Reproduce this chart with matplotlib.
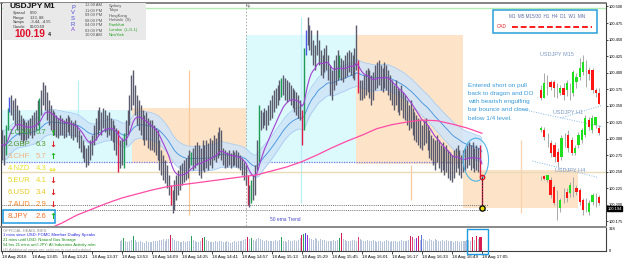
import matplotlib
matplotlib.use("Agg")
import matplotlib.pyplot as plt
import numpy as np
import pandas as pd
from matplotlib.patches import Rectangle, Ellipse

plt.rcParams['font.family'] = ['Liberation Sans', 'DejaVu Sans']

W, H = 625, 264

# M1 bars, 12:49 -> 17:05, prices in pipettes above 100.000 (313 -> 100.313)
bar_high = [
    313, 305, 321, 346, 363, 366, 359, 362, 351, 343, 336, 331, 328, 325, 328, 331,
    336, 340, 343, 359, 362, 374, 386, 381, 371, 359, 351, 343, 340, 336, 331, 336,
    331, 328, 331, 336, 333, 328, 325, 328, 321, 313, 305, 298, 290, 286, 290, 298,
    305, 321, 331, 343, 348, 340, 346, 343, 336, 340, 331, 328, 321, 316, 313, 298,
    301, 308, 328, 343, 366, 396, 404, 381, 366, 359, 351, 343, 336, 340, 331, 328,
    328, 321, 316, 313, 298, 283, 275, 268, 260, 245, 230, 222, 237, 245, 252, 260,
    263, 268, 271, 275, 283, 280, 286, 290, 295, 290, 286, 298, 290, 298, 293, 301,
    298, 305, 301, 310, 318, 313, 286, 283, 280, 283, 278, 283, 280, 283, 280, 275,
    271, 265, 260, 245, 230, 237, 245, 260, 298, 351, 343, 340, 346, 343, 351, 359,
    366, 374, 377, 381, 389, 392, 396, 392, 389, 386, 381, 377, 374, 371, 366, 359,
    343, 437, 465, 484, 472, 465, 449, 442, 465, 449, 434, 427, 437, 442, 427, 412,
    404, 419, 427, 434, 427, 422, 419, 427, 431, 434, 431, 427, 437, 472, 419, 389,
    389, 396, 404, 407, 404, 396, 401, 412, 416, 419, 412, 407, 416, 412, 404, 396,
    389, 381, 389, 377, 374, 381, 371, 366, 359, 351, 359, 346, 340, 336, 331, 328,
    321, 328, 331, 321, 313, 305, 301, 298, 305, 298, 290, 295, 286, 290, 283, 280,
    275, 283, 286, 290, 283, 275, 283, 286, 290, 295, 290, 295, 286, 290, 286, 290, 245,
]
bar_low = [
    268, 260, 275, 313, 340, 336, 328, 321, 313, 305, 298, 293, 298, 298, 301, 305,
    301, 305, 313, 321, 313, 336, 351, 343, 328, 321, 313, 305, 305, 302, 301, 305,
    305, 301, 303, 310, 305, 301, 298, 302, 295, 286, 280, 271, 265, 257, 260, 268,
    275, 290, 298, 305, 313, 305, 316, 310, 302, 305, 298, 295, 283, 275, 249, 255,
    260, 255, 290, 305, 321, 343, 351, 336, 321, 313, 305, 298, 290, 298, 286, 283,
    283, 280, 275, 268, 252, 245, 237, 233, 225, 215, 199, 187, 192, 207, 215, 222,
    230, 234, 237, 240, 255, 260, 252, 255, 260, 245, 240, 252, 249, 255, 252, 260,
    255, 268, 265, 271, 275, 268, 260, 255, 257, 260, 255, 258, 260, 257, 255, 252,
    245, 237, 230, 199, 196, 202, 207, 215, 252, 265, 313, 316, 321, 313, 321, 328,
    331, 340, 346, 351, 359, 363, 366, 359, 355, 359, 351, 346, 340, 336, 331, 328,
    290, 313, 427, 442, 434, 427, 412, 404, 427, 412, 396, 392, 401, 404, 389, 366,
    359, 374, 381, 389, 392, 389, 386, 392, 395, 401, 396, 392, 389, 404, 369, 359,
    359, 362, 366, 371, 362, 351, 359, 374, 377, 381, 374, 371, 377, 374, 366, 359,
    351, 343, 351, 340, 336, 343, 331, 328, 321, 313, 316, 305, 298, 295, 290, 286,
    283, 290, 293, 283, 271, 268, 260, 252, 265, 255, 249, 252, 245, 249, 240, 237,
    234, 240, 249, 255, 245, 240, 249, 252, 255, 260, 252, 255, 249, 252, 249, 242, 195,
]
green_bars = [2, 3, 20, 65, 101, 133, 137, 149, 161, 180]
red_bars = [62, 90, 131, 160, 190, 255, 256]
blue_bars = [4, 162]

# slow (50 ema) line, one value every 8 bars from bar 24
ema50 = [162, 172, 184, 193, 202, 210, 216, 222, 227, 230, 233, 236, 239, 242, 245,
         251, 257, 265, 275, 286, 296, 305, 315, 321, 325, 328, 327, 322, 316, 308]

# tick volume from bar 63 on (earlier bars sit under the news text)
volume = [
    135, 155, 180, 145, 125, 140, 150, 205, 155, 130, 120, 140, 125, 115, 135, 130, 120,
    125, 140, 145, 135, 150, 155, 165, 145, 160, 165, 215, 175, 155, 140, 135, 130,
    125, 135, 130, 145, 140, 210, 155, 135, 125, 120, 140, 185, 195, 150, 135, 125,
    120, 130, 140, 125, 135, 145, 130, 120, 135, 125, 115, 130, 140, 125, 135, 145,
    140, 155, 165, 190, 165, 180, 155, 145, 160, 175, 165, 150, 140, 155, 145, 135,
    145, 140, 155, 135, 150, 190, 145, 140, 130, 155, 145, 135, 150, 140, 155, 175,
    215, 235, 245, 225, 185, 165, 155, 175, 160, 145, 165, 150, 155, 140, 145, 135,
    145, 155, 140, 150, 185, 250, 165, 155, 145, 135, 140, 150, 155, 145, 200, 165,
    155, 145, 140, 150, 135, 145, 155, 140, 130, 145, 135, 125, 140, 150, 135, 130,
    140, 135, 145, 130, 140, 150, 135, 145, 140, 155, 205, 200, 165, 185, 210, 155,
    225, 165, 155, 145, 160, 150, 140, 165, 155, 145, 135, 150, 140, 155, 145, 135,
    140, 130, 145, 135, 125, 140, 145, 135, 150, 155, 140, 200, 155, 205, 165, 200, 195,
]
vol_colors = {65: '#2e9e5e', 70: '#2e9e5e', 90: '#d81b50', 101: '#2e9e5e', 107: '#d81b50',
              108: '#2e9e5e', 131: '#d81b50', 133: '#2e9e5e', 149: '#2e9e5e',
              160: '#d81b50', 161: '#2e9e5e', 162: '#4848e0', 163: '#9a30d0',
              180: '#2e9e5e', 181: '#d81b50', 190: '#e0407a', 218: '#d81b50',
              219: '#e0407a', 221: '#9a30d0', 222: '#d81b50', 224: '#6070e0',
              251: '#d81b50', 253: '#d81b50', 255: '#d81b50', 256: '#d81b50'}

# mini charts (open, high, low, close) in pipettes
m15 = [(374, 381, 359, 362), (362, 399, 362, 384), (381, 396, 366, 381), (386, 389, 374, 378),
       (386, 389, 363, 377), (377, 384, 362, 377), (369, 381, 366, 377), (377, 384, 359, 366),
       (374, 389, 365, 384), (381, 384, 359, 381), (369, 404, 365, 401), (386, 399, 377, 393),
       (393, 422, 389, 407), (401, 427, 396, 416), (407, 419, 378, 407), (404, 408, 389, 398),
       (404, 407, 369, 374), (374, 377, 363, 369), (369, 377, 352, 352)]
h1 = [(313, 319, 310, 316), (313, 318, 298, 302), (298, 308, 287, 298), (293, 298, 272, 278),
      (290, 295, 265, 272), (280, 286, 257, 265), (272, 305, 268, 301), (298, 308, 287, 298),
      (305, 313, 280, 286), (298, 302, 275, 278), (278, 290, 275, 286), (290, 310, 286, 305),
      (298, 316, 293, 313), (305, 336, 302, 331), (328, 333, 313, 318), (313, 336, 308, 331),
      (321, 333, 316, 333), (316, 321, 305, 308)]
h4 = [(240, 243, 237, 240), (243, 245, 237, 239), (237, 245, 234, 245), (237, 242, 210, 215),
      (227, 230, 199, 202), (207, 222, 177, 207), (195, 210, 189, 207), (215, 225, 202, 215),
      (219, 225, 204, 210), (218, 234, 212, 230), (227, 242, 212, 227), (225, 230, 215, 219),
      (222, 225, 199, 204), (207, 210, 184, 192), (199, 210, 189, 199), (189, 207, 184, 202),
      (204, 218, 199, 215), (207, 218, 196, 207), (212, 215, 199, 202)]

currencies = ['1.CAD', '2.GBP', '3.CHF', '4.NZD', '5.EUR', '6.USD', '7.AUD', '8.JPY']
strength = [6.7, 6.3, 5.7, 4.3, 4.1, 3.4, 2.9, 2.6]
trend = ['up', 'down', 'up', 'flat', 'down', 'down', 'down', 'up']
cur_colors = ['#35a83c', '#4f9a2a', '#f2b482', '#e6e22a', '#e6d82a', '#e8c82a', '#f08a2e', '#f0702a']

x_labels = ['18 Aug 2016', '18 Aug 13:05', '18 Aug 13:21', '18 Aug 13:37', '18 Aug 13:53',
            '18 Aug 14:09', '18 Aug 14:25', '18 Aug 14:41', '18 Aug 14:57', '18 Aug 15:13',
            '18 Aug 15:29', '18 Aug 15:45', '18 Aug 16:01', '18 Aug 16:17', '18 Aug 16:33',
            '18 Aug 16:49', '18 Aug 17:05']

CYAN = '#dcf9fc'
PEACH = '#fde4c8'


def price(p):
    return 100 + np.asarray(p, dtype=float) / 1000


def ftext(fig, x, y, s, **kw):
    kw.setdefault('va', 'center')
    kw.setdefault('ha', 'left')
    fig.text(x / W, 1 - y / H, s, **kw)


def frect(fig, x, y, w, h, **kw):
    fig.add_artist(Rectangle((x / W, 1 - (y + h) / H), w / W, h / H,
                             transform=fig.transFigure, **kw))


def draw_candles(ax, data, x0, step):
    for j, (o, hi, lo, c) in enumerate(data):
        x = x0 + j * step
        ax.vlines(x, price(lo), price(hi), color='#a8a8a8', lw=0.7, zorder=6)
        if c > o:
            col = '#1fe01f'
        elif c < o:
            col = '#ff1414'
        else:
            continue
        ax.add_patch(Rectangle((x - 0.6, price(min(o, c))), 1.2, abs(c - o) / 1000,
                               color=col, zorder=7, lw=0))


def main():
    fig = plt.figure(figsize=(W / 100, H / 100), dpi=100)
    ax = fig.add_axes([1 / W, 1 - 226 / H, 605 / W, 223 / H])
    vax = fig.add_axes([1 / W, 1 - 251 / H, 605 / W, 23 / H])

    n = len(bar_high)
    idx = np.arange(n)
    hi = price(bar_high)
    lo = price(bar_low)

    # session boxes
    zones = [(-0.5, 69.3, 263, 343, CYAN), (69.3, 130.1, 263, 346, PEACH),
             (130.1, 188.8, 263, 457, CYAN), (188.8, 245.9, 262, 457, PEACH),
             (245.9, 307.2, 195, 252, PEACH)]
    for x0, x1, p0, p1, col in zones:
        ax.add_patch(Rectangle((x0, price(p0)), x1 - x0, (p1 - p0) / 1000,
                               color=col, lw=0, zorder=0))
    for xb, p0, p1, col in [(99.7, 184, 404, '#f9c99a'), (218, 207, 260, '#f9c99a'),
                            (276.8, 187, 298, '#f9d3ad'), (40.5, 313, 389, '#b8f0f6'),
                            (159.5, 202, 484, '#b8f0f6')]:
        ax.vlines(xb, price(p0), price(p1), color=col, lw=0.9, zorder=0.5)

    # horizontal levels
    ax.axhline(price(498), color='#b4ecb4', lw=1.0, zorder=1)
    ax.axhline(price(249), color='#eadbb8', lw=1.0, zorder=1)
    ax.hlines(price(265), -0.5, 246, color='#7a7ae6', lw=0.9, ls=(0, (1, 1)), zorder=1)
    ax.hlines([price(199), price(192)], -0.5, 259, color='#707070', lw=0.7,
              ls=(0, (1, 1.2)), zorder=1)
    ax.axvline(130.1, color='#a0a0a0', lw=0.6, ls=(0, (2, 2)), zorder=1)

    # dragon band and moving averages
    s_hi = pd.Series(hi).ewm(span=34, adjust=False).mean()
    s_lo = pd.Series(lo).ewm(span=34, adjust=False).mean()
    mid = (hi + lo) / 2
    s_mid = pd.Series(mid).ewm(span=34, adjust=False).mean()
    fast = pd.Series(mid).ewm(span=13, adjust=False).mean()
    ax.fill_between(idx, s_lo, s_hi, color='#cfe4f8', alpha=0.85, lw=0, zorder=2)
    ax.plot(idx, s_hi, color='#a9cdf2', lw=0.6, zorder=2.1)
    ax.plot(idx, s_lo, color='#a9cdf2', lw=0.6, zorder=2.1)
    ax.plot(idx, s_mid, color='#3d8fe0', lw=0.6, zorder=2.2)

    # bars
    cols = ['#5b5b6e'] * n
    for i in green_bars:
        cols[i] = '#1e9b55'
    for i in red_bars:
        cols[i] = '#dd1c4a'
    for i in blue_bars:
        cols[i] = '#4a5ae8'
    ax.vlines(idx, lo, hi, colors=cols, lw=1.0, zorder=3)

    ax.plot(idx, fast, color='#a23fd2', lw=0.8, zorder=4)
    ema_idx = np.arange(24, n, 8)
    ax.plot(ema_idx, price(ema50), color='#ff4aa6', lw=0.9, zorder=4)

    # trade markers
    ax.add_patch(Ellipse((252.8, price(268)), 13.5, 0.065, fill=False,
                         ec='#4fb3e6', lw=0.8, zorder=5))
    ax.plot([256, 256], [price(242), price(195)], color='#202020', lw=0.6,
            ls=(0, (2, 1.5)), zorder=5)
    ax.plot(256, price(242), 'o', ms=3.2, mfc='none', mec='#e01010', mew=0.9, zorder=6)
    ax.plot(256, price(195), 'o', ms=3.8, mfc='#f0e000', mec='#101010', mew=1.0, zorder=6)

    # mini charts of higher timeframes
    draw_candles(ax, m15, 287.5, 1.72)
    draw_candles(ax, h1, 287.5, 1.82)
    draw_candles(ax, h4, 287.5, 1.72)
    for xs, ps in [((298, 320), (331, 350)), ((276, 320), (345, 318)),
                   ((283, 318), (266, 241))]:
        ax.plot(xs, price(list(ps)), color='#8ab8e8', lw=0.7, ls=(0, (1, 1.5)), zorder=5)

    ax.set_xlim(-0.5, 322.2)
    ax.set_ylim(100.1675, 100.5053)
    ax.yaxis.tick_right()
    ticks = [100.175 + 0.025 * k for k in range(14)]
    ax.set_yticks(ticks)
    ax.set_yticklabels([f'{t:.3f}' for t in ticks], fontsize=2.9)
    ax.tick_params(axis='y', length=1.3, width=0.5, pad=0.6)
    ax.set_xticks([])
    for side in ['left', 'right']:
        ax.spines[side].set_color('#404040')
        ax.spines[side].set_linewidth(0.8)
    ax.spines['top'].set_color('#707070')
    ax.spines['top'].set_linewidth(1.2)
    ax.spines['bottom'].set_visible(False)
    ax.text(1.0025, 100.194, '100.194', transform=ax.get_yaxis_transform(), fontsize=2.9,
            color='white', va='center', ha='left',
            bbox=dict(boxstyle='square,pad=0.15', fc='black', ec='black'))

    # volume panel
    vidx = np.arange(n - len(volume), n)
    vcols = [vol_colors.get(i, '#b6c3d9') for i in vidx]
    vax.bar(vidx, volume, width=0.55, color=vcols, lw=0)
    vax.set_xlim(-0.5, 322.2)
    vax.set_ylim(0, 318)
    vax.yaxis.tick_right()
    vax.set_yticks([0, 318])
    vax.set_yticklabels(['0', '318'], fontsize=2.9)
    vax.tick_params(axis='y', length=0, pad=2)
    vax.set_xticks(np.arange(0, n, 16))
    vax.set_xticklabels(x_labels, fontsize=3.2, ha='left')
    vax.tick_params(axis='x', length=2, width=0.5, pad=1)
    for side in ['left', 'right', 'bottom', 'top']:
        vax.spines[side].set_color('#404040')
        vax.spines[side].set_linewidth(0.8)
    vax.spines['top'].set_visible(False)
    frect(fig, 0, 225.5, 607, 2.5, color='#8c8c8c', lw=0)

    # news text
    frect(fig, 2, 228.5, 115, 22, color='white', lw=0)
    news = [('OFFICIAL HEADLINES', '#909090'),
            ('1 mins since USD: FOMC Member Dudley Speaks', '#2020e0'),
            ('21 mins until USD: Natural Gas Storage', '#138a13'),
            ('54 hrs 21 mins until JPY: All Industries Activity m/m', '#138a13'),
            ('(4) Additional news per settings is not scheduled', '#a0a0a0')]
    for k, (s, c) in enumerate(news):
        ftext(fig, 3, 230.5 + k * 4.8, s, fontsize=3.0, color=c)
    frect(fig, 467, 228.5, 21, 25, fill=False, ec='#1e9be0', lw=1.0)

    # info panel
    frect(fig, 3, 3.5, 143, 36.5, color='#e9e9e9', lw=0)
    ftext(fig, 10, 6.8, 'USDJPY', fontsize=6.0, fontweight='bold', color='#111111')
    ftext(fig, 44, 6.8, 'M1', fontsize=6.0, fontweight='bold', color='#111111')
    for k, (a, b) in enumerate([('Spread', '0.50'), ('Range', '123, 88'),
                                ('Swaps', '-3.44, -4.55'), ('Candle', '00:00:59')]):
        ftext(fig, 13, 13 + k * 4.5, a, fontsize=2.9, color='#333333')
        ftext(fig, 30, 13 + k * 4.5, b, fontsize=2.9, color='#333333')
    ftext(fig, 14, 34, '100.19', fontsize=7.3, fontweight='bold', color='#e0102a')
    ftext(fig, 48, 35, '4', fontsize=3.8, fontweight='bold', color='#222222')
    for k, ch in enumerate('PVSRA'):
        ftext(fig, 73, 7.5 + k * 5.5, ch, fontsize=4.2, color='#4a4ad8' if ch != 'A' else '#7a4ad8',
              ha='center')
    times = ['12:09 AM', '11:09 PM', '09:09 PM', '08:09 PM', '04:09 PM', '03:09 PM', '10:09 AM']
    cities = ['Sydney', 'Tokyo', 'HongKong', 'Helsinki  (S)', 'Frankfurt', 'London  (L,G-1)', 'NewYork']
    for k in range(7):
        ftext(fig, 85, 5.5 + k * 5.0, times[k], fontsize=2.9, color='#555555')
        ftext(fig, 109, 5.5 + k * 5.0, cities[k], fontsize=2.9,
              color='#555555' if k < 4 else '#22a022')
    ftext(fig, 246, 5.5, 'Ny', fontsize=3.1, color='#606060')

    # currency strength list
    arrows = {'up': ('\u2191', '#19b419'), 'down': ('\u2193', '#e02020'), 'flat': ('\u21d4', '#e6e22a')}
    for k in range(len(currencies)):
        y = 133 + k * 11.9
        ftext(fig, 8, y, currencies[k], fontsize=5.6, color=cur_colors[k])
        ftext(fig, 36, y, f'{strength[k]:.1f}', fontsize=5.6, color=cur_colors[k])
        a, c = arrows[trend[k]]
        ftext(fig, 49, y, a, fontsize=6, color=c, fontweight='bold', family='DejaVu Sans')
    frect(fig, 3, 209.5, 52, 13.5, fill=False, ec='#1e9be0', lw=1.1)

    ftext(fig, 270, 219.5, '50 ema Trend', fontsize=3.5, color='#4848c8')

    # trade note
    note = ['Entered short on pull', 'back to dragon and DO', 'with bearish engulfing',
            'bar bounce and close', 'below 1/4 level.']
    for k, s in enumerate(note):
        ftext(fig, 468, 85 + k * 8.3, s, fontsize=4.6, color='#3a9ad8')

    ftext(fig, 540, 55, 'USDJPY M15', fontsize=4, color='#7d98c2')
    ftext(fig, 553, 113, 'USDJPY H1', fontsize=4, color='#7d98c2')
    ftext(fig, 555, 170, 'USDJPY H4', fontsize=4, color='#7d98c2')

    # timeframe legend box
    frect(fig, 493, 10, 104, 23, fc='white', ec='#2a9fd8', lw=1.1)
    ftext(fig, 509, 16.5, 'M1  M5 M15/30  H1  H4  D1  W1  MN', fontsize=3.3, color='#5a6aa8')
    ftext(fig, 497, 27, 'CAD', fontsize=3.3, color='#e02020')
    fig.add_artist(plt.Line2D([512 / W, 592 / W], [1 - 27 / H, 1 - 27 / H],
                              transform=fig.transFigure, color='#ff1a1a', lw=1.4,
                              ls=(0, (3, 1.5))))

    fig.savefig('out.png', dpi=100)


if __name__ == '__main__':
    main()
